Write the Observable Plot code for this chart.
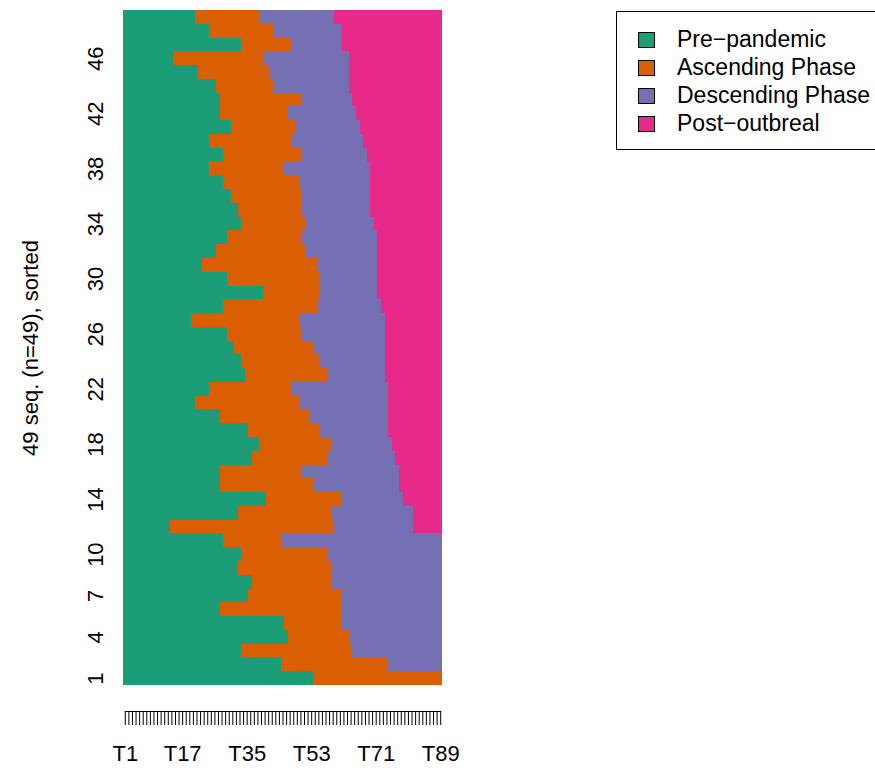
<!DOCTYPE html>
<html>
<head>
<meta charset="utf-8">
<script src="https://cdn.jsdelivr.net/npm/d3@7"></script>
<script src="https://cdn.jsdelivr.net/npm/@observablehq/plot@0.6"></script>
<style>
  html, body { margin: 0; padding: 0; background: #fff; overflow: hidden; }
  #wrap { position: relative; width: 875px; height: 771px; font-family: "Liberation Sans", Arimo, Arial, sans-serif; }
  #legend { position: absolute; left: 616px; top: 11px; width: 290px; height: 139px; border: 1px solid #000; box-sizing: border-box; }
  .sw { position: absolute; left: 21px; width: 15px; height: 14px; border: 1px solid #000; }
  .lb { position: absolute; left: 60px; font-size: 23px; line-height: 23px; white-space: nowrap; color: #000; }
</style>
</head>
<body>
<div id="wrap"><div id="legend"></div></div>
<script>
// States (alphabet) and colours
const states = ["Pre\u2212pandemic", "Ascending Phase", "Descending Phase", "Post\u2212outbreal"];
const stateColors = ["#1B9E77", "#D95F02", "#7570B3", "#E7298A"];

// Spell durations (number of time points) per sequence, sequence 1 (bottom) .. 49 (top)
const preLen  = [53,44,33,46,45,27,35,36,32,33,28,13,32,40,27,27,36,38,35,27,20,24,34,33,31,29,19,28,39,29,22,26,29,33,32,30,28,24,28,24,30,27,27,26,21,14,33,24,20];
const ascLen  = [36,30,31,17,16,34,26,22,26,24,16,46,26,21,26,23,21,20,20,25,29,23,23,22,22,21,30,26,16,26,32,25,21,18,18,20,21,21,22,23,18,19,23,16,20,25,14,18,18];
const descLen = [ 0,15,25,26,28,28,28,31,31,32,45,22,23,17,24,27,19,17,19,22,25,27,16,18,20,23,24,18,16,16,17,20,21,19,19,19,20,24,18,20,18,19,14,21,22,24,14,19,21];
const postLen = [ 0, 0, 0, 0, 0, 0, 0, 0, 0, 0, 0, 8, 8,11,12,12,13,14,15,15,15,15,16,16,16,16,16,17,18,18,18,18,18,19,20,20,20,20,21,22,23,24,25,26,26,26,28,28,30];

// Time points and tick labels
const nTime = 89;
const timeLabels = d3.range(1, nTime + 1).map(i => "T" + i);
const xTickLabels = ["T1", "T17", "T35", "T53", "T71", "T89"];
const yTickLabels = [1, 4, 7, 10, 14, 18, 22, 26, 30, 34, 38, 42, 46];
const yTitle = "49 seq. (n=49), sorted";

// Build spells
const nSeq = preLen.length;
const spells = [];
for (let s = 0; s < nSeq; s++) {
  const lens = [preLen[s], ascLen[s], descLen[s], postLen[s]];
  let start = 0;
  lens.forEach((len, k) => {
    if (len > 0) spells.push({seq: s + 1, state: states[k], x1: start, x2: start + len});
    start += len;
  });
}
const seqDomain = d3.range(nSeq, 0, -1);
const font = "Liberation Sans, Arimo, Arial, sans-serif";

const chart = Plot.plot({
  width: 875,
  height: 771,
  marginLeft: 123,
  marginRight: 433,
  marginTop: 10,
  marginBottom: 86,
  style: {fontFamily: font, fontSize: "22px", color: "#000", background: "#fff"},
  x: {domain: [0, nTime], axis: null},
  y: {type: "band", domain: seqDomain, padding: 0, axis: null},
  color: {domain: states, range: stateColors},
  marks: [
    Plot.barX(spells, {x1: "x1", x2: "x2", y: "seq", fill: "state", shapeRendering: "crispEdges"}),
    // time axis: line + 89 ticks
    Plot.frame({anchor: "bottom", dy: 26, insetLeft: 1.8, insetRight: 1.8, stroke: "#000"}),
    Plot.axisX(timeLabels.map((t, i) => i + 0.5), {anchor: "bottom", tickSize: 14, dy: 26, tickFormat: () => "", stroke: "#000"}),
    Plot.axisX(xTickLabels.map(t => timeLabels.indexOf(t) + 0.5), {
      anchor: "bottom", tickSize: 0, tickPadding: 60,
      tickFormat: v => timeLabels[Math.round(v - 0.5)], fontSize: 22, fill: "#000"
    }),
    // sequence labels
    Plot.text(yTickLabels, {y: d => d, text: d => String(d), frameAnchor: "left", textAnchor: "middle", dx: -28, rotate: -90, fontSize: 22, fill: "#000"}),
    Plot.text([yTitle], {text: d => d, frameAnchor: "left", textAnchor: "middle", dx: -93, rotate: -90, fontSize: 22, fill: "#000"})
  ]
});
document.getElementById("wrap").prepend(chart);

// Legend
const legend = document.getElementById("legend");
states.forEach((s, i) => {
  const cy = 27.7 + 28 * i;
  const sw = document.createElement("div");
  sw.className = "sw";
  sw.style.top = (cy - 8) + "px";
  sw.style.background = stateColors[i];
  legend.appendChild(sw);
  const lb = document.createElement("div");
  lb.className = "lb";
  lb.style.top = (cy - 11.5) + "px";
  lb.textContent = s;
  legend.appendChild(lb);
});
</script>
</body>
</html>
